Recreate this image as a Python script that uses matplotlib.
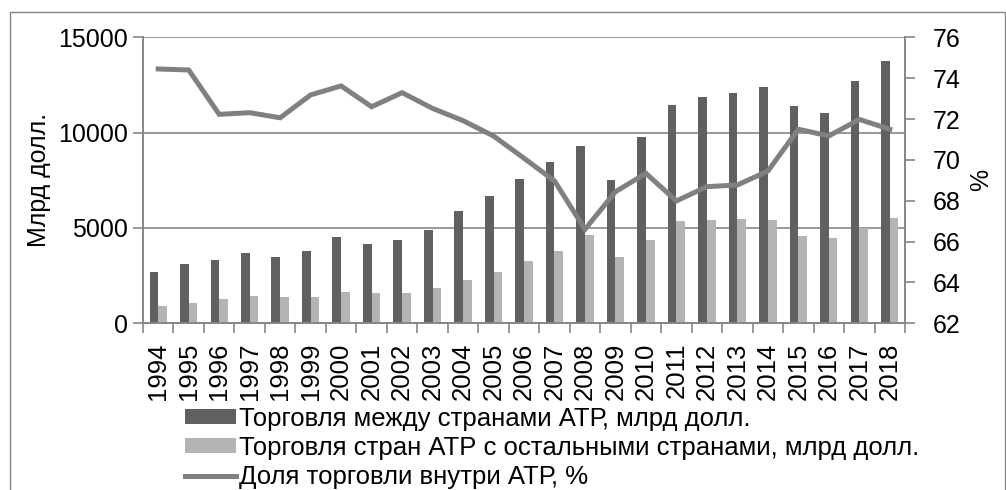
import matplotlib
matplotlib.use("Agg")
import matplotlib.pyplot as plt
from matplotlib.patches import Rectangle
import numpy as np

plt.rcParams['font.family'] = ['Liberation Sans', 'DejaVu Sans']

# data
years = [str(y) for y in range(1994, 2019)]
intra_trade = [2675, 3125, 3320, 3690, 3460, 3790, 4525, 4160, 4370, 4890,
               5890, 6660, 7580, 8440, 9310, 7500, 9790, 11450, 11880, 12090,
               12390, 11400, 11030, 12690, 13770]
extra_trade = [910, 1065, 1275, 1430, 1365, 1400, 1625, 1575, 1590, 1850,
               2285, 2705, 3265, 3790, 4645, 3460, 4350, 5380, 5420, 5470,
               5435, 4560, 4455, 4980, 5505]
intra_share = [74.45, 74.4, 72.23, 72.31, 72.06, 73.18, 73.62, 72.6, 73.29, 72.52,
               71.92, 71.17, 70.08, 68.97, 66.6, 68.44, 69.34, 67.99, 68.69, 68.77,
               69.45, 71.5, 71.17, 71.98, 71.5]

labels = ['Торговля между странами АТР, млрд долл.',
          'Торговля стран АТР с остальными странами, млрд долл.',
          'Доля торговли внутри АТР, %']

dark = '#606060'
light = '#b4b4b4'
line_c = '#808080'
grid_c = '#868686'

fig = plt.figure(figsize=(10.06, 4.9), dpi=100)
# outer chart frame (cut at the bottom in the reference)
fig.patches.append(Rectangle((10 / 1006, -0.1), 995 / 1006, 1 - 12.5 / 490 + 0.1,
                             transform=fig.transFigure, fill=False,
                             edgecolor=grid_c, linewidth=1.0))

ax = fig.add_axes([143 / 1006, 1 - 323.3 / 490, (905 - 143) / 1006, 286 / 490])
ax2 = ax.twinx()

x = np.arange(len(years))
w = 0.285
b1 = ax.bar(x - w / 2, intra_trade, w, color=dark, zorder=2, label=labels[0])
b2 = ax.bar(x + w / 2, extra_trade, w, color=light, zorder=2, label=labels[1])
l1, = ax2.plot(x, intra_share, color=line_c, linewidth=3.6,
               solid_joinstyle='miter', label=labels[2])

ax.set_xlim(-0.5, len(years) - 0.5)
ax.set_ylim(0, 15000)
ax.set_yticks([0, 5000, 10000, 15000])
ax2.set_ylim(62, 76)
ax2.set_yticks(range(62, 77, 2))

ax.yaxis.grid(True, color=grid_c, linewidth=1.2, zorder=0)
ax.set_axisbelow(True)

ax.set_xticks(x)
ax.set_xticklabels(years, rotation=90, fontsize=18.5)
ax.set_xticks(np.arange(-0.5, len(years)), minor=True)
ax.tick_params(axis='x', which='major', length=0, pad=14)
ax.tick_params(axis='x', which='minor', length=7, color=grid_c, width=1.2)
ax.tick_params(axis='y', length=7, color=grid_c, width=1.2, labelsize=18, pad=4)
ax2.tick_params(axis='y', length=7, color=grid_c, width=1.2, labelsize=18, pad=13)

for a in (ax, ax2):
    a.spines['top'].set_visible(False)
    for s in ('left', 'right', 'bottom'):
        a.spines[s].set_color(grid_c)
        a.spines[s].set_linewidth(1.2)

ax.set_ylabel('Млрд долл.', fontsize=18, labelpad=5)
ax2.set_ylabel('%', fontsize=18, labelpad=6)

fig.legend([b1, b2, l1], labels, loc='upper left',
           bbox_to_anchor=(172 / 1006, 1 - 394 / 490), frameon=False,
           fontsize=18.5, handlelength=2.0, handleheight=0.52,
           handletextpad=0.12, labelspacing=0.2, borderpad=0)

fig.savefig('out.png', dpi=100)
